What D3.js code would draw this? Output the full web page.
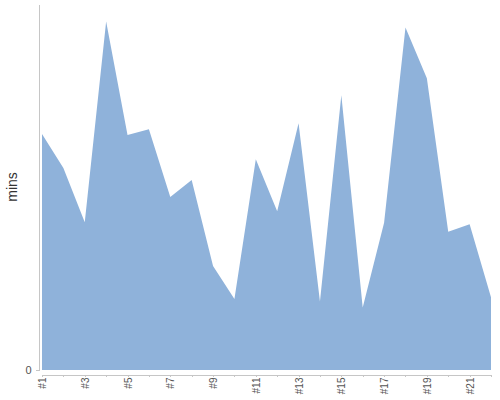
<meta charset="utf-8">
<style>
  body { margin: 0; background: #fff; }
  svg { font-family: "Liberation Sans", Arial, sans-serif; }
  .axis path, .axis line { stroke: #c6c6c6; shape-rendering: crispEdges; }
  .axis text { fill: #555; font-size: 10px; }
  .area { fill: #8fb2da; }
</style>
<body>
<script src="https://d3js.org/d3.v7.min.js"></script>
<script>
  // runs #1..#22, minutes per run
  const runs = ["#1","#2","#3","#4","#5","#6","#7","#8","#9","#10","#11",
                "#12","#13","#14","#15","#16","#17","#18","#19","#20","#21","#22"];
  const mins = [64.5, 55.2, 40.4, 95.2, 64.2, 65.8, 47.3, 51.9, 28.4, 19.4, 57.6,
                43.4, 67.4, 18.7, 75.1, 17.1, 40.2, 93.6, 79.7, 37.8, 39.8, 19.9];
  const yTicks = [0];

  const width = 500, height = 400;

  const svg = d3.select("body")
    .append("svg")
    .attr("width", width)
    .attr("height", height);

  const x = d3.scalePoint().domain(runs).range([42, 491]);
  const y = d3.scaleLinear().domain([0, 100]).range([370, 4]);

  const area = d3.area()
    .x((d, i) => x(runs[i]))
    .y0(y(0))
    .y1(d => y(d));

  svg.append("path")
    .datum(mins)
    .attr("class", "area")
    .attr("d", area);

  // y axis
  svg.append("g")
    .attr("class", "axis")
    .attr("transform", "translate(38.5,0)")
    .call(d3.axisLeft(y).tickValues(yTicks).tickSize(3).tickSizeOuter(0).tickPadding(4))
    .selectAll("text")
    .style("font-size", "11px");

  // x axis, labels on every other run
  const xg = svg.append("g")
    .attr("class", "axis")
    .attr("transform", "translate(0,374.5)")
    .call(d3.axisBottom(x).tickSize(2).tickSizeOuter(0)
      .tickFormat((d, i) => i % 2 === 0 ? d : ""));

  xg.selectAll("text")
    .attr("text-anchor", "end")
    .attr("transform", "rotate(-90)")
    .attr("x", -3)
    .attr("y", 0)
    .attr("dy", "0.35em");

  svg.append("text")
    .attr("transform", `translate(17,${(y(0) + y(100)) / 2}) rotate(-90)`)
    .attr("text-anchor", "middle")
    .style("font-size", "14px")
    .style("fill", "#333")
    .text("mins");
</script>
</body>
</html>
